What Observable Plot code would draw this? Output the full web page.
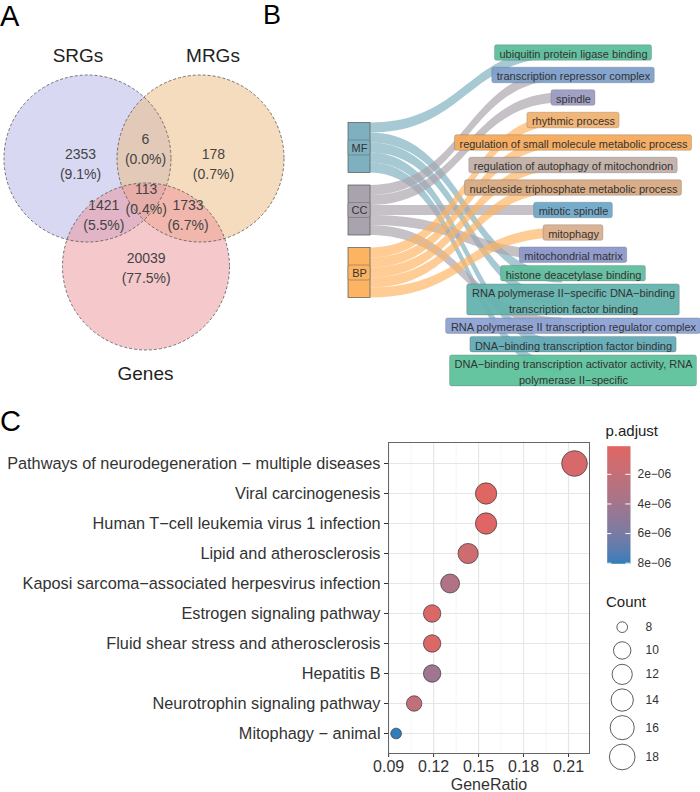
<!DOCTYPE html>
<html><head><meta charset="utf-8">
<script src="https://cdn.jsdelivr.net/npm/d3@7"></script>
<script src="https://cdn.jsdelivr.net/npm/@observablehq/plot@0.6"></script>
<style>
body{margin:0;background:#fff;}
#fig{position:relative;width:700px;height:792px;overflow:hidden;background:#fff;font-family:"Liberation Sans",Arial,Helvetica,sans-serif;}
#fig > *{position:absolute;}
.tag{font-size:29px;line-height:normal;color:#000;}
.ltitle{font-size:15px;line-height:15px;color:#222;}
</style></head><body><div id="fig"></div>
<script>
// ---------------- DATA ----------------
// Panel A: Venn diagram
const vennSets = ["SRGs", "MRGs", "Genes"];
const vennRegions = ["SRGs only", "SRGs∩MRGs", "MRGs only", "SRGs∩MRGs∩Genes", "SRGs∩Genes", "MRGs∩Genes", "Genes only"];
const vennCounts = [2353, 6, 178, 113, 1421, 1733, 20039];

// Panel B: GO Sankey
const goCategories = ["MF", "CC", "BP"];
const goTerms = [
  "ubiquitin protein ligase binding",
  "transcription repressor complex",
  "spindle",
  "rhythmic process",
  "regulation of small molecule metabolic process",
  "regulation of autophagy of mitochondrion",
  "nucleoside triphosphate metabolic process",
  "mitotic spindle",
  "mitophagy",
  "mitochondrial matrix",
  "histone deacetylase binding",
  "RNA polymerase II−specific DNA−binding transcription factor binding",
  "RNA polymerase II transcription regulator complex",
  "DNA−binding transcription factor binding",
  "DNA−binding transcription activator activity, RNA polymerase II−specific"
];
const goTermCategory = ["MF","CC","CC","BP","BP","BP","BP","CC","BP","CC","MF","MF","CC","MF","MF"];

// Panel C: KEGG dot plot
const keggPathways = [
  "Pathways of neurodegeneration − multiple diseases",
  "Viral carcinogenesis",
  "Human T−cell leukemia virus 1 infection",
  "Lipid and atherosclerosis",
  "Kaposi sarcoma−associated herpesvirus infection",
  "Estrogen signaling pathway",
  "Fluid shear stress and atherosclerosis",
  "Hepatitis B",
  "Neurotrophin signaling pathway",
  "Mitophagy − animal"
];
const geneRatio = [0.214, 0.155, 0.155, 0.143, 0.131, 0.119, 0.119, 0.119, 0.107, 0.095];
const geneCount = [18, 13, 13, 12, 11, 10, 10, 10, 9, 8];
const pAdjust = [0.7e-6, 0.1e-6, 0.15e-6, 1.3e-6, 3.2e-6, 0.5e-6, 0.5e-6, 4.2e-6, 2.1e-6, 8.04e-6];
const ratioTicks = [0.09, 0.12, 0.15, 0.18, 0.21];
const pTicks = [2e-6, 4e-6, 6e-6, 8e-6];
const countTicks = [8, 10, 12, 14, 16, 18];

// ---------------- STYLES / LAYOUT ----------------
const FONT = '"Liberation Sans", Arial, Helvetica, sans-serif';
const baseStyle = {background: "none", fontFamily: FONT, color: "#333", overflow: "visible"};
const vennFill = {SRGs: "#b1b1e8", MRGs: "#eeb97d", Genes: "#ec9299"};
// unit layout (circle radius = 1)
const vennCircleLayout = {SRGs: [-0.677, 0.431], MRGs: [0.677, 0.431], Genes: [0.024, -0.862]};
const vennLabelLayout = [[-0.76,0.387],[0.018,0.566],[0.832,0.387],[0.026,-0.032],[-0.481,-0.231],[0.527,-0.231],[0.026,-0.866]];
const vennTitleLayout = [[-0.79,1.665],[0.826,1.665],[0.018,-2.144]];
const catColor = {MF: "#7eb0bf", CC: "#a9a3ad", BP: "#fdb462"};
const termColor = ["#5dbf9c","#7e9fcb","#9b9cc2","#f2b272","#f4aa5c","#c2b0a8","#d8aa83","#70a9c9","#dab08e","#8c98cb","#60be9d","#64b3ae","#8ca2d3","#62aab5","#5dc29c"];

const fig = document.getElementById("fig");
function place(el, left, top) { el.style.position = "absolute"; el.style.left = left + "px"; el.style.top = top + "px"; fig.appendChild(el); return el; }
function div(cls, text, left, top) { const d = document.createElement("div"); d.className = cls; d.textContent = text; return place(d, left, top); }

// ---------------- PANEL A ----------------
{
  const R = 83.5, W = 300, H = 400, cx = 143.5, cy = 194;
  const total = d3.sum(vennCounts);
  const pct = d3.format(".1f");
  const svg = Plot.plot({
    width: W, height: H, margin: 0, style: baseStyle,
    x: {domain: [-cx / R, (W - cx) / R], axis: null},
    y: {domain: [(cy - H) / R, cy / R], axis: null},
    marks: [
      Plot.dot(vennSets, {x: s => vennCircleLayout[s][0], y: s => vennCircleLayout[s][1], r: R, fill: s => vennFill[s], fillOpacity: 0.5, stroke: "none"}),
      Plot.dot(vennSets, {x: s => vennCircleLayout[s][0], y: s => vennCircleLayout[s][1], r: R, fill: "none", stroke: "#555", strokeWidth: 0.8, strokeDasharray: "3,2"}),
      Plot.text(vennCounts, {x: (d, i) => vennLabelLayout[i][0], y: (d, i) => vennLabelLayout[i][1],
        text: d => `${d}\n(${pct(d / total * 100)}%)`, fontSize: 14, lineHeight: 1.43, fill: "#444"}),
      Plot.text(vennSets, {x: (d, i) => vennTitleLayout[i][0], y: (d, i) => vennTitleLayout[i][1], text: d => d, fontSize: 19, fill: "#222"})
    ]
  });
  place(svg, 0, 0);
}

// ---------------- PANEL B ----------------
{
  const W = 460, H = 400;
  const gap = 1.25, nT = goTerms.length;
  const span = nT + (nT - 1) * gap;
  const pxX = 214, nodeW = 22 / pxX;
  const tgt = goTerms.map((t, i) => ({term: t, cat: goTermCategory[i], color: termColor[i], y0: i * (1 + gap), y1: i * (1 + gap) + 1}));
  let y = (span - (nT + (goCategories.length - 1) * gap)) / 2;
  const srcNodes = [], links = [];
  goCategories.forEach(cat => {
    const items = tgt.filter(t => t.cat === cat);
    srcNodes.push({cat, y0: y, y1: y + items.length});
    items.forEach((t, k) => links.push({id: cat + k, cat, s0: y + k, s1: y + k + 1, t0: t.y0, t1: t.y1}));
    y += items.length + gap;
  });
  const linkRows = links.flatMap(l => [
    {id: l.id, x: 1 + nodeW / 2, top: l.s0, bot: l.s1, fill: catColor[l.cat]},
    {id: l.id, x: 2 - nodeW / 2, top: l.t0, bot: l.t1, fill: catColor[l.cat]}
  ]);
  // label layout
  const ctx = document.createElement("canvas").getContext("2d");
  ctx.font = `11px ${FONT}`;
  function wrap(s, w = 50) {
    const out = []; let cur = "";
    for (const wd of s.split(" ")) {
      if (cur && (cur + " " + wd).length > w) { out.push(cur); cur = wd; } else cur = cur ? cur + " " + wd : wd;
    }
    out.push(cur); return out;
  }
  const labels = tgt.map(t => {
    const lines = wrap(t.term);
    const tw = d3.max(lines, l => ctx.measureText(l).width);
    return {...t, text: lines.join("\n"), lines: lines.length, c: (t.y0 + t.y1) / 2, h: lines.length * 1.55, hw: (tw / 2 + 4.5) / pxX};
  });
  for (let it = 0; it < 300; it++) {
    for (let i = 1; i < labels.length; i++) {
      const a = labels[i - 1], b = labels[i];
      const ov = (a.c + a.h / 2 + 0.3) - (b.c - b.h / 2);
      if (ov > 0) { a.c -= ov / 2; b.c += ov / 2; }
    }
  }
  const svg = Plot.plot({
    width: W, height: H, margin: 0, style: baseStyle,
    x: {domain: [1, 2], range: [119, 333], axis: null},
    y: {domain: [0, span], range: [47.5, 372.5], axis: null},
    marks: [
      Plot.areaY(linkRows, {x: "x", y1: "top", y2: "bot", z: "id", fill: "fill", fillOpacity: 0.68, curve: "bump-x"}),
      Plot.rect(srcNodes, {x1: 1 - nodeW / 2, x2: 1 + nodeW / 2, y1: "y0", y2: "y1", fill: d => catColor[d.cat], stroke: "#555", strokeWidth: 0.7}),
      Plot.rect(srcNodes, {x1: 1 - nodeW / 2, x2: 1 + nodeW / 2, y1: d => (d.y0 + d.y1) / 2 - 0.75, y2: d => (d.y0 + d.y1) / 2 + 0.75, fill: d => catColor[d.cat], stroke: "#666", strokeWidth: 0.5, rx: 2}),
      Plot.text(srcNodes, {x: 1, y: d => (d.y0 + d.y1) / 2, text: "cat", fontSize: 11, fill: "#333"}),
      Plot.rect(labels, {x1: d => 2 - d.hw, x2: d => 2 + d.hw, y1: d => d.c - d.h / 2, y2: d => d.c + d.h / 2, fill: "color", fillOpacity: 0.95, stroke: "#555", strokeOpacity: 0.45, strokeWidth: 0.6, rx: 2}),
      Plot.text(labels, {x: 2, y: "c", text: "text", fontSize: 11, lineHeight: 1.41, fill: "#333"})
    ]
  });
  place(svg, 240, 0);
}

// ---------------- PANEL C ----------------
const minCount = d3.min(geneCount), maxCount = d3.max(geneCount);
const rOpts = {type: "sqrt", transform: c => c - minCount, domain: [0, maxCount - minCount], range: [5.35, 12.85]};
const [pMin, pMax] = d3.extent(pAdjust);
const colorOpts = {type: "linear", domain: [pMin, pMax], range: ["#e06663", "#327eba"], interpolate: "lab"};
{
  const minorTicks = d3.pairs(ratioTicks).map(([a, b]) => (a + b) / 2);
  const svg = Plot.plot({
    width: 600, height: 392, marginLeft: 388, marginRight: 11, marginTop: 42, marginBottom: 39,
    style: baseStyle,
    x: {domain: [0.0899, 0.224]},
    y: {type: "point", domain: keggPathways, padding: 0.6},
    r: rOpts, color: colorOpts,
    marks: [
      Plot.ruleX(minorTicks, {stroke: "#f0f0f0", strokeWidth: 0.7}),
      Plot.ruleX(ratioTicks, {stroke: "#e6e6e6", strokeWidth: 1.2}),
      Plot.ruleY(keggPathways, {stroke: "#e6e6e6", strokeWidth: 1.2}),
      Plot.dot(keggPathways, {x: (d, i) => geneRatio[i], y: d => d, r: (d, i) => geneCount[i], fill: (d, i) => pAdjust[i], stroke: "#333", strokeWidth: 0.7}),
      Plot.axisY({tickSize: 4, tickPadding: 4, fontSize: 16.3, label: null}),
      Plot.axisX(ratioTicks, {tickSize: 4, tickPadding: 3, fontSize: 16, tickFormat: d3.format(".2f"), label: "GeneRatio", labelAnchor: "center", labelArrow: "none"}),
      Plot.frame({stroke: "#666"})
    ]
  });
  place(svg, 0, 400);
}

// colour bar legend
{
  const fmt = p => { const [m, e] = p.toExponential(0).split("e"); return m + "e" + (+e < 0 ? "−" : "+") + String(Math.abs(+e)).padStart(2, "0"); };
  const svg = Plot.plot({
    width: 100, height: 160, margin: 0, style: baseStyle,
    x: {domain: [0, 1], range: [6.7, 30], axis: null},
    y: {domain: [pMin, pMax], range: [25.7, 143.3], axis: null},
    color: colorOpts,
    marks: [
      Plot.raster({fill: (x, y) => y, x1: 0, x2: 1, y1: pMin, y2: pMax, width: 1, height: 120, imageRendering: "auto"}),
      Plot.ruleY(pTicks, {x1: 0, x2: 0.2, stroke: "white", strokeWidth: 1}),
      Plot.ruleY(pTicks, {x1: 0.8, x2: 1, stroke: "white", strokeWidth: 1}),
      Plot.text(pTicks, {x: 1, y: d => d, text: fmt, dx: 7, textAnchor: "start", fontSize: 12, fill: "#333"})
    ]
  });
  place(svg, 600, 420);
  div("ltitle", "p.adjust", 605.5, 423.3);
}

// size legend
{
  const rPx = d3.scaleSqrt().domain(rOpts.domain).range(rOpts.range);
  const keyH = countTicks.map(c => Math.max(23.3, 2 * rPx(c - minCount) + 4.4));
  const ys = []; let acc = 15;
  keyH.forEach((h, i) => { ys.push(acc + h / 2); acc += h; });
  const svg = Plot.plot({
    width: 100, height: 192, margin: 0, style: baseStyle,
    x: {domain: [0, 100], range: [0, 100], axis: null},
    y: {domain: [0, 192], range: [0, 192], axis: null},
    r: rOpts,
    marks: [
      Plot.dot(countTicks, {x: 21.7, y: (d, i) => ys[i], r: d => d, fill: "white", stroke: "#333", strokeWidth: 0.8}),
      Plot.text(countTicks, {x: 45, y: (d, i) => ys[i], text: d => String(d), textAnchor: "start", fontSize: 12, fill: "#333"})
    ]
  });
  place(svg, 600, 600);
  div("ltitle", "Count", 606, 594);
}

// panel tags
div("tag", "A", 0, 0);
const tb = div("tag", "B", 263, 0); tb.style.fontSize = "27px";
div("tag", "C", 0, 405);
</script></body></html>
